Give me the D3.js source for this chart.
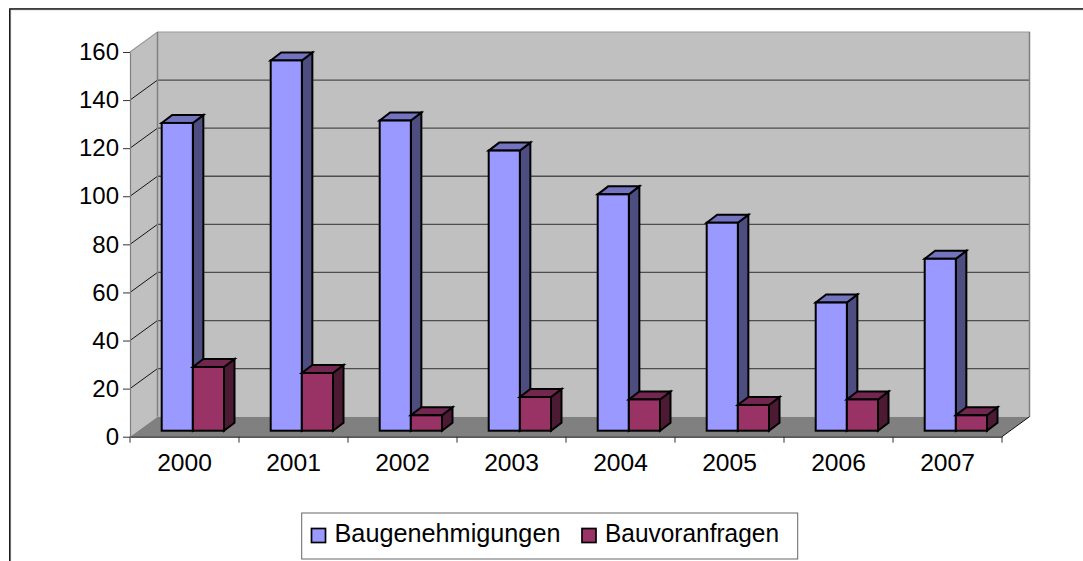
<!DOCTYPE html>
<html>
<head>
<meta charset="UTF-8">
<title>Baugenehmigungen</title>
<style>
body, html {
	padding: 0;
	margin: 0;
	overflow: hidden;
	background: #ffffff;
}
text {
	font-family: 'Liberation Sans', Arial, sans-serif;
	fill: #000000;
}
</style>
<script src="https://cdn.jsdelivr.net/npm/d3@7/dist/d3.min.js"></script>
</head>
<body>
<div id="graph"></div>
<script>
var years = ["2000", "2001", "2002", "2003", "2004", "2005", "2006", "2007"];
var seriesNames = ["Baugenehmigungen", "Bauvoranfragen"];
var baugenehmigungen = [128, 154, 129, 116.5, 98.3, 86.5, 53.3, 71.5];
var bauvoranfragen = [26.5, 24, 6.4, 14, 13, 10.7, 13, 6.4];
var yTicks = [0, 20, 40, 60, 80, 100, 120, 140, 160];

var colors = [
	{front: "#9999ff", side: "#4d4d80", top: "#7373bf"},
	{front: "#993366", side: "#4d1a33", top: "#732650"}
];

var width = 1083;
var height = 561;

// wall depth and bar depth of the fake 3d
var wallDx = 27.5;
var wallDy = -20;
var barDx = 10.5;
var barDy = -8;
var barBase = 6;

var svg = d3.select("#graph").append("svg").attr("width", width).attr("height", height).style("display", "block");

var x = d3.scaleBand().domain(years).range([130, 1002]);
var xSeries = d3.scaleBand().domain(seriesNames).range([31.7, 94]);
var y = d3.scaleLinear().domain([0, 160]).range([436.7, 52]);

// outer frame, cut off at right and bottom
svg.append("path").attr("d", "M10.6,561V9.7H1083").attr("fill", "none").attr("stroke", "#999999").attr("stroke-width", 1);
svg.append("path").attr("d", "M9.7,561V8.8H1083").attr("fill", "none").attr("stroke", "#000000").attr("stroke-width", 1.2);

var x0 = x.range()[0];
var x1 = x.range()[1];

// walls and floor
svg.append("polygon")
	.attr("points", [[x0, y(0)], [x0 + wallDx, y(0) + wallDy], [x0 + wallDx, y(160) + wallDy], [x0, y(160)]].join(" "))
	.attr("fill", "#c0c0c0");
svg.append("rect")
	.attr("x", x0 + wallDx).attr("y", y(160) + wallDy)
	.attr("width", x1 - x0).attr("height", y(0) - y(160))
	.attr("fill", "#c0c0c0");
svg.append("polygon")
	.attr("points", [[x0, y(0)], [x1, y(0)], [x1 + wallDx, y(0) + wallDy], [x0 + wallDx, y(0) + wallDy]].join(" "))
	.attr("fill", "#808080");

// grid
var gridTicks = yTicks.filter(function(d) {return d > 0 && d < 160});
svg.append("g").selectAll("line").data(gridTicks).enter().append("line")
	.attr("x1", x0 + wallDx).attr("x2", x1 + wallDx)
	.attr("y1", function(d) {return y(d) + wallDy}).attr("y2", function(d) {return y(d) + wallDy})
	.attr("stroke", "#4d4d4d").attr("stroke-width", 1.3);
svg.append("g").selectAll("line").data(gridTicks).enter().append("line")
	.attr("x1", x0).attr("x2", x0 + wallDx)
	.attr("y1", function(d) {return y(d)}).attr("y2", function(d) {return y(d) + wallDy})
	.attr("stroke", "#000000").attr("stroke-width", 0.9);

// wall borders
svg.append("path")
	.attr("d", "M" + x0 + "," + y(160) + "L" + (x0 + wallDx) + "," + (y(160) + wallDy) + "H" + (x1 + wallDx) + "V" + (y(0) + wallDy))
	.attr("fill", "none").attr("stroke", "#999999").attr("stroke-width", 1.2);
svg.append("path")
	.attr("d", "M" + (x0 + wallDx) + "," + (y(160) + wallDy) + "V" + (y(0) + wallDy))
	.attr("fill", "none").attr("stroke", "#808080").attr("stroke-width", 1.5);
svg.append("path")
	.attr("d", "M" + (x1 + wallDx) + "," + (y(160) + wallDy) + "V" + (y(0) + wallDy))
	.attr("fill", "none").attr("stroke", "#808080").attr("stroke-width", 1.4);
svg.append("line")
	.attr("x1", x1).attr("x2", x1 + wallDx)
	.attr("y1", y(0)).attr("y2", y(0) + wallDy)
	.attr("stroke", "#000000").attr("stroke-width", 0.9);

// bars, one group per year, back faces drawn before the front
var bars = [];
years.forEach(function(year, i) {
	bars.push({year: year, name: seriesNames[0], value: baugenehmigungen[i], c: colors[0]});
	bars.push({year: year, name: seriesNames[1], value: bauvoranfragen[i], c: colors[1]});
});

var bar = svg.append("g").selectAll("g").data(bars).enter().append("g")
	.attr("stroke", "#000000").attr("stroke-width", 2).attr("stroke-linejoin", "miter");

function barBox(d) {
	var left = x(d.year) + xSeries(d.name);
	return {l: left, r: left + xSeries.bandwidth(), t: y(d.value) - barBase, b: y(0) - barBase};
}

bar.append("polygon")
	.attr("fill", function(d) {return d.c.side})
	.attr("points", function(d) {
		var b = barBox(d);
		return [[b.r, b.b], [b.r + barDx, b.b + barDy], [b.r + barDx, b.t + barDy], [b.r, b.t]].join(" ");
	});
bar.append("polygon")
	.attr("fill", function(d) {return d.c.top})
	.attr("points", function(d) {
		var b = barBox(d);
		return [[b.l, b.t], [b.l + barDx, b.t + barDy], [b.r + barDx, b.t + barDy], [b.r, b.t]].join(" ");
	});
bar.append("rect")
	.attr("fill", function(d) {return d.c.front})
	.attr("x", function(d) {return barBox(d).l})
	.attr("y", function(d) {return barBox(d).t})
	.attr("width", xSeries.bandwidth())
	.attr("height", function(d) {var b = barBox(d); return b.b - b.t});

// axes
var yAxis = svg.append("g").attr("transform", "translate(" + x0 + ",0)")
	.call(d3.axisLeft(y).tickValues(yTicks).tickSize(7).tickPadding(4).tickSizeOuter(0));
yAxis.select(".domain").attr("stroke", "#808080").attr("stroke-width", 1.2);
yAxis.selectAll(".tick line").attr("stroke", "#333333");
yAxis.selectAll("text").attr("font-size", 24).style("font-family", "'Liberation Sans', Arial, sans-serif");

var xAxis = svg.append("g").attr("transform", "translate(0," + y(0) + ")")
	.call(d3.axisBottom(x).tickSize(0).tickPadding(17));
xAxis.select(".domain").attr("stroke", "#222222").attr("stroke-width", 1.2);
xAxis.selectAll("text").attr("font-size", 24.6).attr("dy", "0.71em").style("font-family", "'Liberation Sans', Arial, sans-serif");
xAxis.append("g").selectAll("line").data(years.concat(["end"])).enter().append("line")
	.attr("x1", function(d) {return d == "end" ? x1 : x(d)})
	.attr("x2", function(d) {return d == "end" ? x1 : x(d)})
	.attr("y1", 0).attr("y2", 6)
	.attr("stroke", "#333333").attr("stroke-width", 1);

// legend
var legend = svg.append("g");
legend.append("rect")
	.attr("x", 301.7).attr("y", 513).attr("width", 496).attr("height", 46)
	.attr("fill", "#ffffff").attr("stroke", "#666666").attr("stroke-width", 1);

var legendX = d3.scaleOrdinal().domain(seriesNames).range([311.5, 582]);
var item = legend.selectAll(".item").data(seriesNames).enter().append("g")
	.attr("class", "item")
	.attr("transform", function(d) {return "translate(" + legendX(d) + ",0)"});
item.append("rect")
	.attr("y", 528.5).attr("width", 14).attr("height", 14)
	.attr("fill", function(d, i) {return colors[i].front})
	.attr("stroke", "#000000").attr("stroke-width", 1.7);
item.append("text")
	.attr("x", 23).attr("y", 541.7).attr("font-size", 25.4)
	.attr("textLength", function(d, i) {return i == 0 ? 226 : 174})
	.attr("lengthAdjust", "spacingAndGlyphs")
	.text(function(d) {return d});
</script>
</body>
</html>
